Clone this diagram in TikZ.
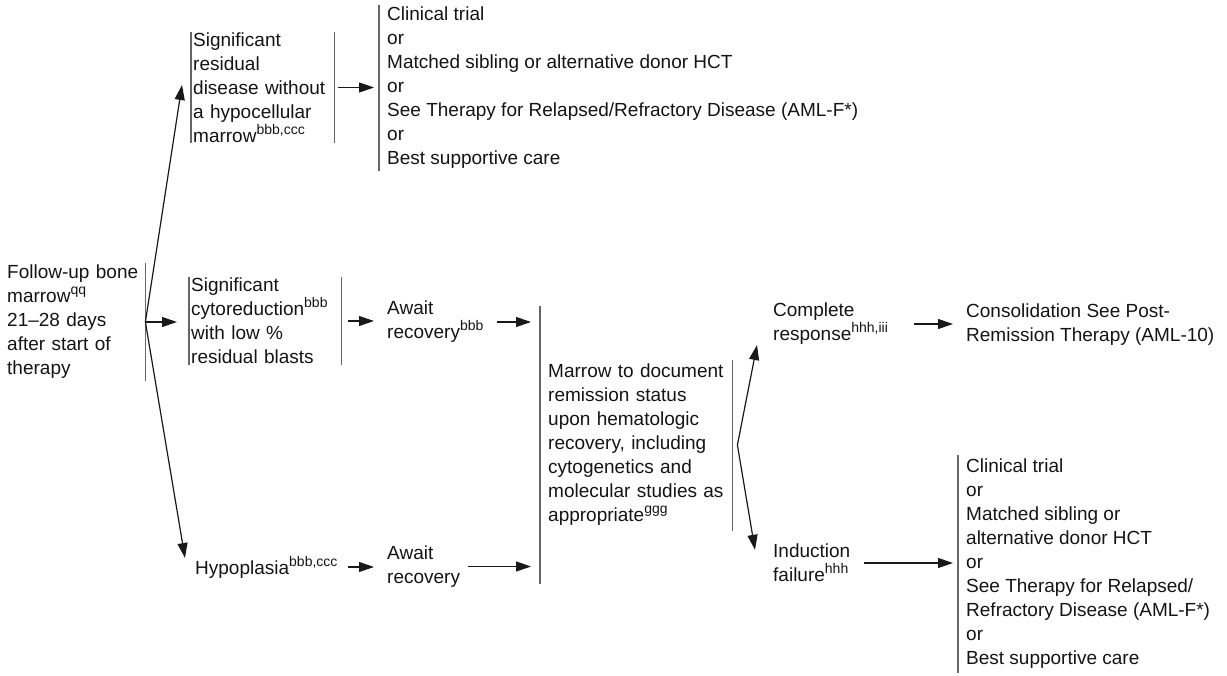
\documentclass[tikz,border=0pt]{standalone}
\usepackage{fontspec}
\setmainfont{Liberation Sans}
\usetikzlibrary{arrows.meta}
\newcommand{\supnote}[1]{\raisebox{0.42em}{\fontsize{14}{14}\selectfont #1}}

\begin{document}
\begin{tikzpicture}[x=1pt, y=-1pt, every node/.style={font=\fontsize{19}{24}\selectfont, align=left, inner sep=0pt, text=black!92}, >={Triangle[length=15pt, width=10pt]}, flow/.style={->, line width=1.2pt, black!90}, bar/.style={draw=black!60, line width=1.6pt}, stepbox/.style={inner xsep=2pt, minimum height=#1, anchor=west}, optbox/.style={inner xsep=8pt, minimum height=#1, anchor=west}]
	\useasboundingbox (0,0) rectangle (1227,676);
	\node[stepbox=118pt, text width=136pt] (start) at (5,322) {Follow-up bone\\ marrow\supnote{qq}\\ 21–28 days\\ after start of\\ therapy};
	\node[stepbox=111pt, text width=139pt] (resid) at (191,87.5) {Significant\\ residual\\ disease without\\ a hypocellular\\ marrow\supnote{bbb,ccc}};
	\node[optbox=165pt] (topopts) at (379,88) {Clinical trial\\ or\\ Matched sibling or alternative donor HCT\\ or\\ See Therapy for Relapsed/Refractory Disease (AML-F*)\\ or\\ Best supportive care};
	\node[stepbox=88pt, text width=148pt] (cyto) at (189,321) {Significant\\ cytoreduction\supnote{bbb}\\ with low \%\\ residual blasts};
	\node[anchor=west] (await1) at (387,322) {Await\\ recovery\supnote{bbb}};
	\node[anchor=west] (hypo) at (195,567) {Hypoplasia\supnote{bbb,ccc}};
	\node[anchor=west] (await2) at (387,566.5) {Await\\ recovery};
	\node[stepbox=277pt, text width=176pt, inner xsep=8pt] (marrow) at (540,445) {Marrow to document\\ remission status\\ upon hematologic\\ recovery, including\\ cytogenetics and\\ molecular studies as\\ appropriate\supnote{ggg}};
	\node[anchor=west] (complete) at (773,324) {Complete\\ response\supnote{hhh,iii}};
	\node[anchor=west] (induct) at (773,563) {Induction\\ failure\supnote{hhh}};
	\node[anchor=west] (consol) at (966,324.5) {Consolidation See Post-\\ Remission Therapy (AML-10)};
	\node[optbox=218pt] (botopts) at (958,564) {Clinical trial\\ or\\ Matched sibling or\\ alternative donor HCT\\ or\\ See Therapy for Relapsed/\\ Refractory Disease (AML-F*)\\ or\\ Best supportive care};
	\foreach \n in {resid,topopts,cyto,marrow,botopts} {\draw[bar] (\n.north west) -- (\n.south west);}
	\foreach \n in {start,resid,cyto} {\draw[bar] (\n.north east) -- (\n.south east);}
	\draw[bar] ([yshift=-54pt]marrow.north east) -- ([yshift=53pt]marrow.south east);
	\draw[flow] (start.east) -- ([xshift=-9pt,yshift=2.5pt]resid.west);
	\draw[flow, shorten >=12pt] (start.east) -- (start.east -| cyto.west);
	\draw[flow] (start.east) -- ([xshift=-10pt,yshift=9pt]hypo.west);
	\draw[flow, shorten <=4pt, shorten >=5pt] (resid.east) -- (resid.east -| topopts.west);
	\draw[flow, shorten <=7pt, shorten >=13pt] (cyto.east) -- (cyto.east -| await1.west);
	\draw[flow, shorten <=10pt, shorten >=13pt] (hypo.east) -- (hypo.east -| await2.west);
	\draw[flow, shorten <=13pt, shorten >=9pt] (await1.east) -- (await1.east -| marrow.west);
	\draw[flow, shorten <=8pt, shorten >=9pt] (await2.east) -- (await2.east -| marrow.west);
	\coordinate (fork) at ([xshift=5pt]marrow.east);
	\draw[flow] (fork) -- ([xshift=-16pt]complete.south west);
	\draw[flow] (fork) -- ([xshift=-18pt,yshift=-6pt]induct.north west);
	\draw[flow, shorten <=26pt, shorten >=13pt] (complete.east) -- (complete.east -| consol.west);
	\draw[flow, shorten <=13pt, shorten >=5pt] (induct.east) -- (induct.east -| botopts.west);
\end{tikzpicture}
\end{document}
